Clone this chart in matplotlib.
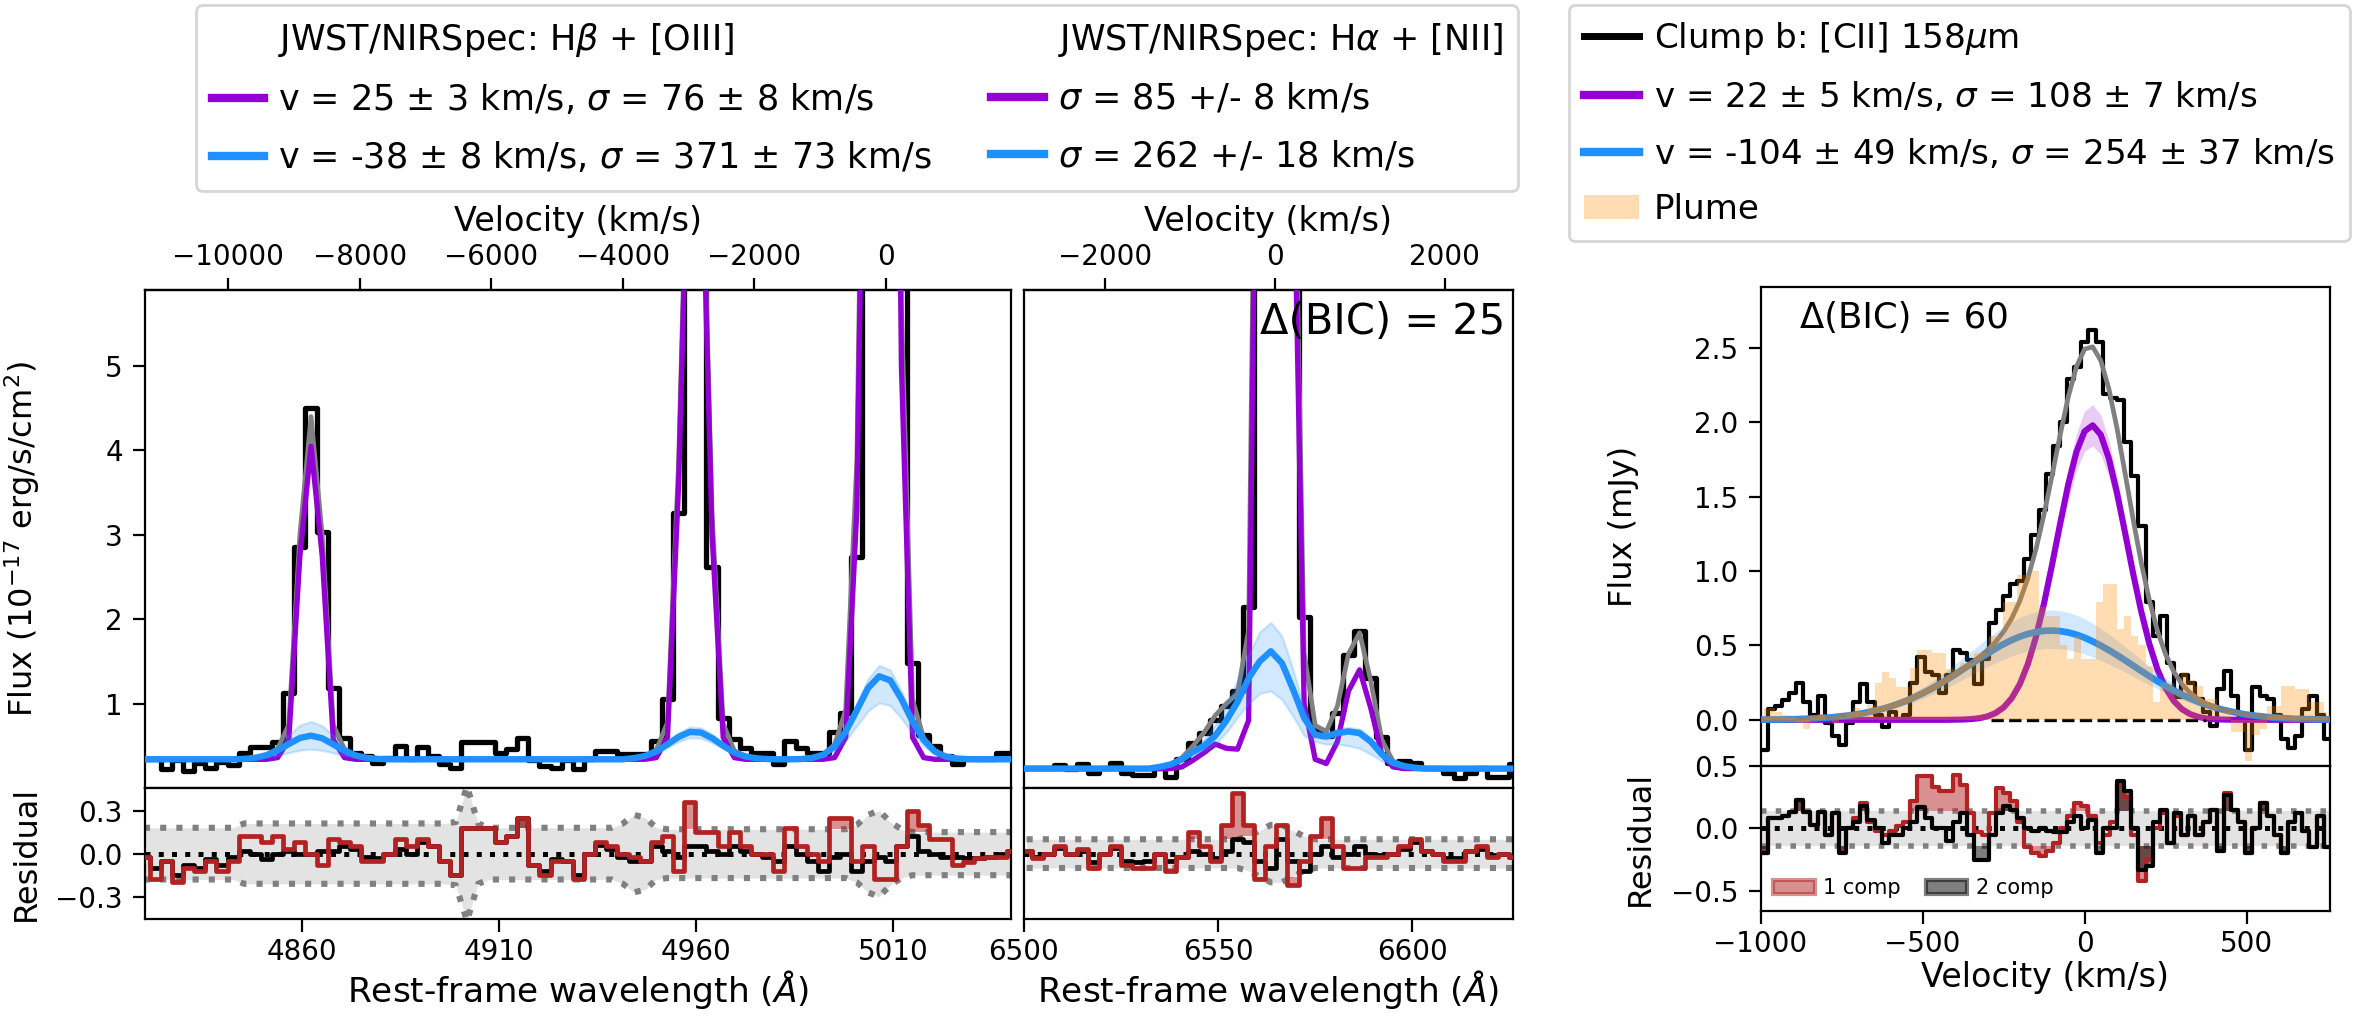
import numpy as np
import matplotlib
matplotlib.use('Agg')
import matplotlib.pyplot as plt
from matplotlib.lines import Line2D
from matplotlib.patches import Patch

plt.rcParams['font.family'] = ['DejaVu Sans']
plt.rcParams['xtick.labelsize'] = 10
plt.rcParams['ytick.labelsize'] = 10
plt.rcParams['axes.labelsize'] = 12
plt.rcParams['xtick.major.size'] = 4.5
plt.rcParams['ytick.major.size'] = 4.5
plt.rcParams['xtick.major.pad'] = 2.5

C_KMS = 299792.458
PURPLE = 'darkviolet'
BLUE = 'dodgerblue'

# ---------------- H-beta + [OIII] spectrum (rest-frame, 10^-17 erg/s/cm2) ----------------
hb_start, hb_step = 4819.74, 2.83
hb_line0 = 5008.24
hb_flux = [0.34, 0.34, 0.22, 0.33, 0.20, 0.30, 0.24, 0.31, 0.27, 0.42,
           0.48, 0.48, 0.55, 1.13, 2.86, 4.50, 3.03, 1.18, 0.59, 0.42,
           0.38, 0.30, 0.36, 0.50, 0.34, 0.48, 0.38, 0.28, 0.24, 0.54,
           0.55, 0.54, 0.42, 0.46, 0.59, 0.33, 0.26, 0.24, 0.33, 0.22,
           0.34, 0.44, 0.44, 0.40, 0.40, 0.40, 0.56, 1.05, 3.26, 9.00,
           9.00, 2.62, 0.83, 0.58, 0.47, 0.42, 0.42, 0.28, 0.56, 0.47,
           0.41, 0.41, 0.66, 0.89, 2.74, 15.0, 27.0, 20.0, 7.00, 1.48,
           0.63, 0.50, 0.38, 0.29, 0.34, 0.34, 0.34, 0.42, 0.42]
hb_narrow = ([0.34] * 12 + [0.36, 0.57, 2.75, 4.05, 2.75, 0.57, 0.36] + [0.34] * 27
             + [0.36, 0.60, 3.60, 8.50, 8.00, 3.00, 0.60, 0.36] + [0.34] * 8
             + [0.36, 0.60, 3.30, 12.0, 25.0, 18.0, 5.00, 0.60, 0.36] + [0.34] * 8)
hb_broad = ([0.34] * 9
            + [0.345, 0.358, 0.389, 0.445, 0.521, 0.593, 0.620, 0.589, 0.516, 0.440, 0.386, 0.357, 0.345]
            + [0.34] * 22
            + [0.354, 0.380, 0.433, 0.517, 0.606, 0.664, 0.657, 0.591, 0.501, 0.421, 0.374, 0.352, 0.343]
            + [0.34] * 2
            + [0.343, 0.357, 0.395, 0.492, 0.669, 0.921, 1.183, 1.324, 1.275, 1.055, 0.789, 0.570,
               0.433, 0.371, 0.349, 0.342]
            + [0.34] * 4)
hb_broad_hi = ([0.34] * 9
               + [0.348, 0.369, 0.418, 0.508, 0.630, 0.745, 0.788, 0.738, 0.622, 0.500, 0.414, 0.367, 0.348]
               + [0.34] * 22
               + [0.357, 0.387, 0.450, 0.549, 0.654, 0.722, 0.714, 0.636, 0.530, 0.436, 0.380, 0.354, 0.344]
               + [0.34] * 2
               + [0.343, 0.359, 0.402, 0.512, 0.712, 0.997, 1.293, 1.452, 1.397, 1.148, 0.847, 0.600,
                  0.445, 0.375, 0.350, 0.342]
               + [0.34] * 4)
hb_broad_lo = ([0.34] * 9
               + [0.342, 0.348, 0.361, 0.385, 0.418, 0.449, 0.460, 0.447, 0.416, 0.383, 0.360, 0.347, 0.342]
               + [0.34] * 22
               + [0.351, 0.372, 0.413, 0.480, 0.550, 0.596, 0.590, 0.538, 0.467, 0.404, 0.367, 0.349, 0.342]
               + [0.34] * 2
               + [0.342, 0.352, 0.377, 0.443, 0.564, 0.735, 0.913, 1.009, 0.976, 0.826, 0.645, 0.496,
                  0.403, 0.361, 0.346, 0.341]
               + [0.34] * 4)
hb_total = ([0.34] * 9
            + [0.345, 0.358, 0.389, 0.465, 0.751, 3.003, 4.40, 2.999, 0.746, 0.460, 0.386, 0.357, 0.345]
            + [0.34] * 22
            + [0.354, 0.380, 0.453, 0.777, 3.866, 8.824, 8.317, 3.251, 0.761, 0.441, 0.374, 0.352]
            + [0.343, 0.34, 0.34]
            + [0.343, 0.357, 0.395, 0.512, 0.929, 3.881, 12.84, 25.0, 18.9, 5.715, 1.049, 0.590,
               0.433, 0.371, 0.349]
            + [0.34] * 5)
hb_res1 = [-0.02, -0.18, -0.05, -0.20, -0.10, -0.12, -0.05, -0.12, -0.05, 0.12,
           0.12, 0.08, 0.12, 0.03, 0.08, 0.00, -0.08, 0.10, 0.08, 0.05,
           -0.05, -0.05, 0.00, 0.10, 0.05, 0.10, 0.05, -0.05, -0.15, 0.18,
           0.18, 0.18, 0.08, 0.12, 0.25, -0.08, -0.15, -0.05, -0.05, -0.18,
           0.00, 0.08, 0.05, 0.00, -0.02, -0.05, 0.08, 0.12, -0.12, 0.36,
           0.15, 0.15, 0.05, 0.15, 0.05, 0.00, 0.00, -0.12, 0.18, 0.05,
           0.00, -0.05, 0.25, 0.25, -0.05, 0.05, -0.18, -0.18, 0.05, 0.30,
           0.20, 0.10, 0.10, -0.08, -0.06, -0.03, -0.02, -0.02, 0.02]
hb_res2 = [-0.02, -0.10, -0.05, -0.15, -0.08, -0.10, -0.04, -0.08, -0.02, 0.02,
           0.00, -0.04, 0.00, 0.02, 0.00, 0.00, 0.02, 0.02, 0.05, 0.03,
           -0.02, -0.03, 0.00, 0.03, 0.00, 0.08, 0.05, -0.05, -0.15, 0.18,
           0.18, 0.18, 0.08, 0.12, 0.25, -0.08, -0.12, -0.04, -0.05, -0.15,
           0.00, 0.06, 0.03, -0.02, -0.05, -0.05, 0.05, 0.02, -0.02, 0.05,
           0.05, 0.02, 0.00, 0.05, 0.02, 0.00, -0.02, -0.05, 0.05, 0.00,
           -0.05, -0.12, -0.02, 0.00, -0.12, -0.05, -0.02, -0.05, 0.05, 0.12,
           0.02, 0.00, -0.02, -0.02, -0.03, -0.03, -0.02, 0.00, 0.02]
hb_err = ([0.18] * 9 + [0.21] * 19 + [0.22, 0.47, 0.21] + [0.18] * 12
          + [0.21, 0.27, 0.25, 0.18] + [0.17] * 17 + [0.20, 0.27, 0.30, 0.22, 0.17] + [0.15] * 10)

# ---------------- H-alpha + [NII] spectrum ----------------
ha_start, ha_step = 6500.68, 2.86
ha_line0 = 6564.6
ha_flux = [0.24, 0.24, 0.24, 0.27, 0.23, 0.28, 0.18, 0.24, 0.30, 0.18,
           0.16, 0.16, 0.24, 0.13, 0.34, 0.535, 0.653, 0.81, 0.97, 1.146,
           2.15, 9.00, 22.0, 20.0, 8.00, 2.03, 0.70, 0.62, 0.89, 1.58,
           1.855, 1.30, 0.61, 0.30, 0.32, 0.30, 0.24, 0.24, 0.18, 0.12,
           0.18, 0.24, 0.13, 0.13, 0.28]
ha_narrow = ([0.23] * 14
             + [0.25, 0.33, 0.42, 0.52, 0.47, 0.46, 0.80, 12.0, 30.0, 28.0, 8.00, 1.00, 0.34, 0.29,
                0.55, 1.15, 1.40, 0.95, 0.40, 0.25]
             + [0.23] * 11)
ha_broad = ([0.23] * 12
            + [0.25, 0.28, 0.34, 0.43, 0.50, 0.62, 0.80, 1.02, 1.30, 1.50, 1.62, 1.48, 1.17, 0.83,
               0.63, 0.61, 0.65, 0.67, 0.65, 0.55, 0.40, 0.30, 0.26, 0.24]
            + [0.23] * 9)
ha_broad_hi = ([0.23] * 12 + [0.25, 0.28]
               + [0.36, 0.47, 0.58, 0.75, 0.98, 1.28, 1.58, 1.85, 1.96, 1.80, 1.40, 0.95, 0.68, 0.66,
                  0.70, 0.72, 0.70, 0.60, 0.43, 0.31, 0.26, 0.24]
               + [0.23] * 9)
ha_broad_lo = ([0.23] * 12 + [0.25, 0.28]
               + [0.32, 0.39, 0.44, 0.52, 0.66, 0.84, 1.00, 1.12, 1.15, 1.05, 0.85, 0.62, 0.55, 0.52,
                  0.52, 0.50, 0.47, 0.40, 0.32, 0.27, 0.24, 0.23]
               + [0.23] * 9)
ha_total = ([0.23] * 12
            + [0.25, 0.28, 0.36, 0.50, 0.66, 0.86, 1.00, 1.12, 1.87, 13.0, 31.0, 29.0, 8.90, 1.60,
               0.74, 0.67, 0.97, 1.59, 1.84, 1.27, 0.57, 0.32, 0.26, 0.24]
            + [0.23] * 9)
ha_res1 = [0.02, -0.03, 0.00, 0.05, 0.00, 0.03, -0.10, 0.00, 0.05, -0.08,
           -0.10, -0.10, 0.00, -0.12, -0.02, 0.15, 0.05, -0.05, 0.20, 0.42,
           0.20, -0.18, 0.05, 0.20, -0.22, -0.05, 0.12, 0.25, 0.05, -0.10,
           -0.10, -0.02, -0.02, 0.00, 0.05, 0.10, 0.02, 0.00, -0.05, -0.05,
           0.02, 0.05, -0.02, 0.00, -0.02]
ha_res2 = [0.02, -0.02, 0.00, 0.04, 0.00, 0.02, -0.06, 0.00, 0.04, -0.05,
           -0.06, -0.05, 0.00, -0.05, -0.02, 0.02, 0.00, -0.03, 0.02, 0.10,
           0.08, -0.05, -0.10, 0.10, -0.05, -0.12, 0.00, 0.05, -0.02, 0.00,
           0.05, 0.00, -0.01, 0.00, 0.03, 0.08, 0.02, 0.00, -0.03, -0.03,
           0.02, 0.03, -0.01, 0.00, -0.02]
ha_err = [0.10] * 20 + [0.12, 0.16, 0.20, 0.20, 0.16, 0.12] + [0.10] * 19

# ---------------- [CII] 158um clump b (mJy) ----------------
cii_start, cii_step = -989.0, 22.0
cii_flux = [-0.20, 0.07, 0.09, 0.13, 0.18, 0.25, 0.12, 0.03, 0.16, -0.02,
            -0.11, -0.17, -0.02, 0.12, 0.24, 0.12, 0.03, -0.05, 0.05, 0.00,
            0.03, 0.25, 0.42, 0.32, 0.30, 0.18, 0.30, 0.47, 0.45, 0.40,
            0.24, 0.41, 0.65, 0.74, 0.83, 0.91, 0.93, 1.08, 1.24, 1.41,
            1.65, 1.84, 2.00, 2.29, 2.37, 2.54, 2.62, 2.54, 2.19, 2.16,
            2.15, 1.87, 1.64, 1.30, 0.79, 0.56, 0.70, 0.38, 0.15, 0.30,
            0.25, 0.14, 0.05, -0.04, 0.21, 0.33, 0.16, 0.03, -0.20, 0.22,
            0.16, 0.14, 0.03, -0.13, -0.19, -0.11, 0.07, 0.16, 0.03, -0.13]
plume_flux = [0.08, 0.08, 0.05, 0.03, 0.02, -0.02, -0.06, 0.02, 0.04, 0.00,
              -0.03, 0.02, 0.05, 0.08, 0.05, 0.10, 0.25, 0.32, 0.28, 0.22,
              0.22, 0.35, 0.47, 0.47, 0.45, 0.45, 0.34, 0.34, 0.38, 0.38,
              0.45, 0.45, 0.56, 0.56, 0.79, 0.79, 0.97, 0.97, 1.00, 0.76,
              0.70, 0.70, 0.50, 0.41, 0.56, 0.41, 0.41, 0.79, 0.91, 0.91,
              0.61, 0.70, 0.56, 0.50, 0.36, 0.12, 0.25, 0.25, 0.21, 0.32,
              0.27, 0.23, 0.14, 0.14, 0.05, 0.05, -0.08, -0.08, -0.28, -0.10,
              -0.06, 0.09, 0.09, 0.23, 0.23, 0.21, 0.21, 0.12, 0.12, 0.05]
cii_res1 = [-0.20, 0.08, 0.08, 0.10, 0.13, 0.23, 0.13, 0.03, 0.13, -0.05,
            0.12, -0.18, 0.00, 0.08, 0.20, 0.05, -0.02, -0.05, -0.02, 0.02,
            0.05, 0.22, 0.42, 0.42, 0.33, 0.30, 0.30, 0.43, 0.35, 0.12,
            -0.03, -0.05, 0.12, 0.32, 0.28, 0.22, 0.05, -0.15, -0.20, -0.22,
            -0.18, -0.12, 0.00, 0.10, 0.20, 0.18, 0.10, -0.12, -0.05, 0.05,
            0.35, 0.25, -0.05, -0.42, -0.25, 0.00, 0.12, -0.12, 0.10, -0.05,
            0.10, -0.05, 0.05, 0.15, -0.18, 0.28, 0.15, 0.05, -0.20, 0.00,
            0.20, 0.10, -0.05, -0.20, 0.05, 0.12, -0.02, -0.15, 0.10, -0.15]
cii_res2 = [-0.20, 0.08, 0.08, 0.10, 0.13, 0.23, 0.13, 0.03, 0.13, -0.05,
            0.12, -0.20, 0.00, 0.05, 0.18, 0.07, 0.00, -0.12, -0.05, -0.05,
            0.00, 0.05, 0.17, 0.08, 0.00, 0.00, -0.10, 0.05, 0.12, -0.05,
            -0.25, -0.25, -0.05, 0.12, 0.18, 0.15, 0.08, 0.00, -0.02, 0.00,
            -0.02, -0.03, -0.03, 0.05, 0.10, 0.00, 0.07, -0.20, 0.00, 0.00,
            0.38, 0.30, 0.00, -0.33, -0.30, 0.05, 0.15, -0.12, 0.12, -0.05,
            0.10, -0.05, 0.05, 0.15, -0.18, 0.27, 0.15, 0.05, -0.20, 0.00,
            0.20, 0.10, -0.05, -0.20, 0.05, 0.12, -0.02, -0.15, 0.10, -0.15]
cii_err = 0.14

# model grid for [CII] fit (km/s)
mod_start, mod_step = -1000.0, 25.0
cii_narrow = ([0.0] * 23
              + [0.000, 0.001, 0.002, 0.005, 0.011, 0.023, 0.045, 0.083, 0.145, 0.239,
                 0.375, 0.557, 0.784, 1.046, 1.323, 1.586, 1.801, 1.939, 1.979, 1.915,
                 1.755, 1.525, 1.256, 0.981, 0.726, 0.509, 0.338, 0.213, 0.127, 0.072,
                 0.039, 0.020, 0.009, 0.004, 0.002, 0.001]
              + [0.0] * 12)
cii_broad = [0.001, 0.002, 0.002, 0.003, 0.004, 0.006, 0.008, 0.011, 0.014, 0.018,
             0.024, 0.030, 0.038, 0.048, 0.060, 0.073, 0.089, 0.108, 0.128, 0.152,
             0.178, 0.206, 0.237, 0.270, 0.304, 0.340, 0.375, 0.411, 0.445, 0.478,
             0.509, 0.536, 0.559, 0.577, 0.590, 0.598, 0.600, 0.596, 0.587, 0.572,
             0.552, 0.527, 0.499, 0.468, 0.435, 0.400, 0.364, 0.328, 0.293, 0.259,
             0.227, 0.197, 0.169, 0.144, 0.121, 0.101, 0.084, 0.069, 0.056, 0.045,
             0.035, 0.028, 0.022, 0.017, 0.013, 0.010, 0.007, 0.005, 0.004, 0.003,
             0.002]
cii_total = [0.001, 0.002, 0.002, 0.003, 0.004, 0.006, 0.008, 0.011, 0.014, 0.018,
             0.024, 0.030, 0.038, 0.048, 0.060, 0.073, 0.089, 0.108, 0.128, 0.152,
             0.178, 0.206, 0.237, 0.270, 0.305, 0.342, 0.380, 0.422, 0.468, 0.523,
             0.592, 0.681, 0.798, 0.952, 1.147, 1.382, 1.646, 1.919, 2.173, 2.373,
             2.491, 2.506, 2.414, 2.223, 1.960, 1.656, 1.345, 1.054, 0.802, 0.597,
             0.440, 0.324, 0.241, 0.183, 0.141, 0.110, 0.088, 0.071, 0.057, 0.045,
             0.035, 0.028, 0.022, 0.017, 0.013, 0.010, 0.007, 0.005, 0.004, 0.003,
             0.002]
narrow_band_frac = (0.93, 1.07)
broad_band_frac = (0.80, 1.23)
zero_line_range = (-290, 375)

# ---------------- build arrays ----------------
hb_wave = hb_start + hb_step * np.arange(len(hb_flux))
ha_wave = ha_start + ha_step * np.arange(len(ha_flux))
cii_vel = cii_start + cii_step * np.arange(len(cii_flux))
mod_vel = mod_start + mod_step * np.arange(len(cii_broad))
A = lambda a: np.asarray(a, dtype=float)

fig = plt.figure(figsize=(11.865, 5.08), dpi=200)
ax1 = fig.add_axes([0.0611, 0.2244, 0.3649, 0.4902])
ax1r = fig.add_axes([0.0611, 0.0955, 0.3649, 0.1289], sharex=ax1)
ax2 = fig.add_axes([0.4315, 0.2244, 0.2061, 0.4902], sharey=ax1)
ax2r = fig.add_axes([0.4315, 0.0955, 0.2061, 0.1289], sharex=ax2, sharey=ax1r)
ax3 = fig.add_axes([0.7419, 0.2461, 0.2398, 0.4717])
ax3r = fig.add_axes([0.7419, 0.1036, 0.2398, 0.1425], sharex=ax3)


def draw_optical(ax, axr, wave, flux, total, narrow, broad, blo, bhi, res1, res2, err, step):
    ax.step(wave, A(flux), where='mid', color='k', lw=1.9, zorder=1)
    ax.plot(wave, A(total), color='gray', lw=1.7, zorder=2)
    ax.plot(wave, A(narrow), color=PURPLE, lw=1.9, zorder=3)
    ax.fill_between(wave, A(blo), A(bhi), facecolor=BLUE, edgecolor=BLUE, alpha=0.2, lw=0.8, zorder=4)
    ax.plot(wave, A(broad), color=BLUE, lw=2.3, zorder=5)
    err = A(err)
    r1, r2 = A(res1), A(res2)
    axr.fill_between(wave, -err, err, color='#e3e3e3', lw=0, zorder=0)
    axr.plot(wave, err, ls=':', color='gray', lw=2.2, zorder=1)
    axr.plot(wave, -err, ls=':', color='gray', lw=2.2, zorder=1)
    axr.axhline(0, color='k', ls=':', lw=1.8, zorder=2)
    for r, col in ((r2, 'k'), (r1, 'firebrick')):
        up = r > err
        dn = r < -err
        axr.bar(wave[up], (r - err)[up], bottom=err[up], width=step, color=col, alpha=0.5, lw=0, zorder=3)
        axr.bar(wave[dn], (r + err)[dn], bottom=-err[dn], width=step, color=col, alpha=0.5, lw=0, zorder=3)
    axr.step(wave, r2, where='mid', color='k', lw=1.7, zorder=4)
    axr.step(wave, r1, where='mid', color='firebrick', lw=1.7, zorder=5)


draw_optical(ax1, ax1r, hb_wave, hb_flux, hb_total, hb_narrow, hb_broad, hb_broad_lo, hb_broad_hi,
             hb_res1, hb_res2, hb_err, hb_step)
draw_optical(ax2, ax2r, ha_wave, ha_flux, ha_total, ha_narrow, ha_broad, ha_broad_lo, ha_broad_hi,
             ha_res1, ha_res2, ha_err, ha_step)

ax1.set_xlim(4820, 5040)
ax1.set_ylim(0, 5.9)
ax1.set_yticks([1, 2, 3, 4, 5])
ax1r.set_ylim(-0.455, 0.457)
ax1r.set_yticks([-0.3, 0.0, 0.3])
ax1r.set_xticks([4860, 4910, 4960, 5010])
ax1.tick_params(axis='x', bottom=False, labelbottom=False)
ax1.set_ylabel('Flux (10$^{-17}$ erg/s/cm$^2$)', fontsize=11.5)
ax1r.set_ylabel('Residual', fontsize=11.5)
ax1.yaxis.set_label_coords(-0.119, 0.5)
ax1r.yaxis.set_label_coords(-0.119, 0.5)
ax1r.set_xlabel(r'Rest-frame wavelength ($\AA$)', fontsize=12.4, labelpad=0.5)

ax2.set_xlim(6500, 6626)
ax2.tick_params(axis='x', bottom=False, labelbottom=False)
ax2.tick_params(axis='y', left=False, labelleft=False)
ax2r.tick_params(axis='y', left=False, labelleft=False)
ax2r.set_xticks([6500, 6550, 6600])
ax2r.set_xlabel(r'Rest-frame wavelength ($\AA$)', fontsize=12.4, labelpad=0.5)
ax2.text(0.985, 0.935, 'Δ(BIC) = 25', transform=ax2.transAxes, ha='right', va='center', fontsize=15)


def vel_funcs(l0):
    return (lambda lam: (lam / l0 - 1.0) * C_KMS, lambda v: l0 * (1.0 + v / C_KMS))


sec1 = ax1.secondary_xaxis('top', functions=vel_funcs(hb_line0))
sec1.set_xticks([-10000, -8000, -6000, -4000, -2000, 0])
sec1.set_xlabel('Velocity (km/s)')
sec2 = ax2.secondary_xaxis('top', functions=vel_funcs(ha_line0))
sec2.set_xticks([-2000, 0, 2000])
sec2.set_xlabel('Velocity (km/s)')

# ---------------- [CII] panel ----------------
nar = A(cii_narrow)
brd = A(cii_broad)
ax3.step(cii_vel, A(cii_flux), where='mid', color='k', lw=1.5, zorder=1)
ax3.fill_between(mod_vel, nar * narrow_band_frac[0], nar * narrow_band_frac[1], color=PURPLE, alpha=0.2, lw=0, zorder=2)
ax3.plot(mod_vel, nar, color=PURPLE, lw=2.2, zorder=3)
ax3.fill_between(mod_vel, brd * broad_band_frac[0], brd * broad_band_frac[1], color=BLUE, alpha=0.2, lw=0, zorder=4)
ax3.plot(mod_vel, brd, color=BLUE, lw=2.4, zorder=5)
ax3.plot(mod_vel, A(cii_total), color='gray', lw=1.7, zorder=6)
ax3.hlines(0, zero_line_range[0], zero_line_range[1], colors='k', linestyles='--', lw=1.2, zorder=6)
ax3.fill_between(cii_vel, 0, A(plume_flux), step='mid', color='darkorange', alpha=0.3, lw=0, zorder=7)
ax3.set_xlim(-1000, 756)
ax3.set_ylim(-0.31, 2.91)
ax3.set_yticks([0.0, 0.5, 1.0, 1.5, 2.0, 2.5])
ax3.tick_params(axis='x', bottom=False, labelbottom=False)
ax3.set_ylabel('Flux (mJy)', fontsize=11.5)
ax3.yaxis.set_label_coords(-0.214, 0.5)
ax3.text(0.07, 0.935, 'Δ(BIC) = 60', transform=ax3.transAxes, ha='left', va='center', fontsize=12.8)

r1, r2 = A(cii_res1), A(cii_res2)
ax3r.axhspan(-cii_err, cii_err, color='#e3e3e3', lw=0, zorder=0)
ax3r.axhline(cii_err, ls=':', color='gray', lw=2.0, zorder=1)
ax3r.axhline(-cii_err, ls=':', color='gray', lw=2.0, zorder=1)
ax3r.axhline(0, ls=':', color='k', lw=1.8, zorder=2)
for r, col in ((r1, 'firebrick'), (r2, 'k')):
    up = r > cii_err
    dn = r < -cii_err
    ax3r.bar(cii_vel[up], (r - cii_err)[up], bottom=cii_err, width=cii_step, color=col, alpha=0.5, lw=0, zorder=3)
    ax3r.bar(cii_vel[dn], (r + cii_err)[dn], bottom=-cii_err, width=cii_step, color=col, alpha=0.5, lw=0, zorder=3)
ax3r.step(cii_vel, r1, where='mid', color='firebrick', lw=1.5, zorder=4)
ax3r.step(cii_vel, r2, where='mid', color='k', lw=1.5, zorder=5)
ax3r.set_ylim(-0.66, 0.5)
ax3r.set_yticks([-0.5, 0.0, 0.5])
ax3r.set_xticks([-1000, -500, 0, 500])
ax3r.set_xlabel('Velocity (km/s)', labelpad=1)
ax3r.set_ylabel('Residual', fontsize=11.5)
ax3r.yaxis.set_label_coords(-0.184, 0.5)
ax3r.legend(handles=[Patch(facecolor='firebrick', edgecolor='firebrick', alpha=0.5, lw=1.5),
                     Patch(facecolor='k', edgecolor='k', alpha=0.5, lw=1.5)],
            labels=['1 comp', '2 comp'], loc='lower left', ncol=2, frameon=False, fontsize=7.5,
            borderaxespad=0.2, handletextpad=0.4, columnspacing=1.2)

# ---------------- legends ----------------
blank = Line2D([], [], color='none')
h_opt = [blank,
         Line2D([], [], color=PURPLE, lw=3),
         Line2D([], [], color=BLUE, lw=3),
         blank,
         Line2D([], [], color=PURPLE, lw=3),
         Line2D([], [], color=BLUE, lw=3)]
l_opt = [r'JWST/NIRSpec: H$\beta$ + [OIII]',
         r'v = 25 $\pm$ 3 km/s, $\sigma$ = 76 $\pm$ 8 km/s',
         r'v = -38 $\pm$ 8 km/s, $\sigma$ = 371 $\pm$ 73 km/s',
         r'JWST/NIRSpec: H$\alpha$ + [NII]',
         r'$\sigma$ = 85 +/- 8 km/s',
         r'$\sigma$ = 262 +/- 18 km/s']
fig.legend(handles=h_opt, labels=l_opt, loc='upper left', bbox_to_anchor=(0.0825, 0.995),
           ncol=2, fontsize=12.6, handlelength=1.5, handletextpad=0.4, labelspacing=0.66,
           columnspacing=1.7, borderpad=0.45, borderaxespad=0)

h_cii = [Line2D([], [], color='k', lw=2.5),
         Line2D([], [], color=PURPLE, lw=3),
         Line2D([], [], color=BLUE, lw=3),
         Patch(facecolor='darkorange', alpha=0.3, lw=0)]
l_cii = [r'Clump b: [CII] 158$\mu$m',
         r'v = 22 $\pm$ 5 km/s, $\sigma$ = 108 $\pm$ 7 km/s',
         r'v = -104 $\pm$ 49 km/s, $\sigma$ = 254 $\pm$ 37 km/s',
         'Plume']
fig.legend(handles=h_cii, labels=l_cii, loc='upper left', bbox_to_anchor=(0.661, 0.995),
           fontsize=12.3, handlelength=1.6, handletextpad=0.45, labelspacing=0.66, borderpad=0.45,
           borderaxespad=0)

fig.savefig('out.png', dpi=200)
